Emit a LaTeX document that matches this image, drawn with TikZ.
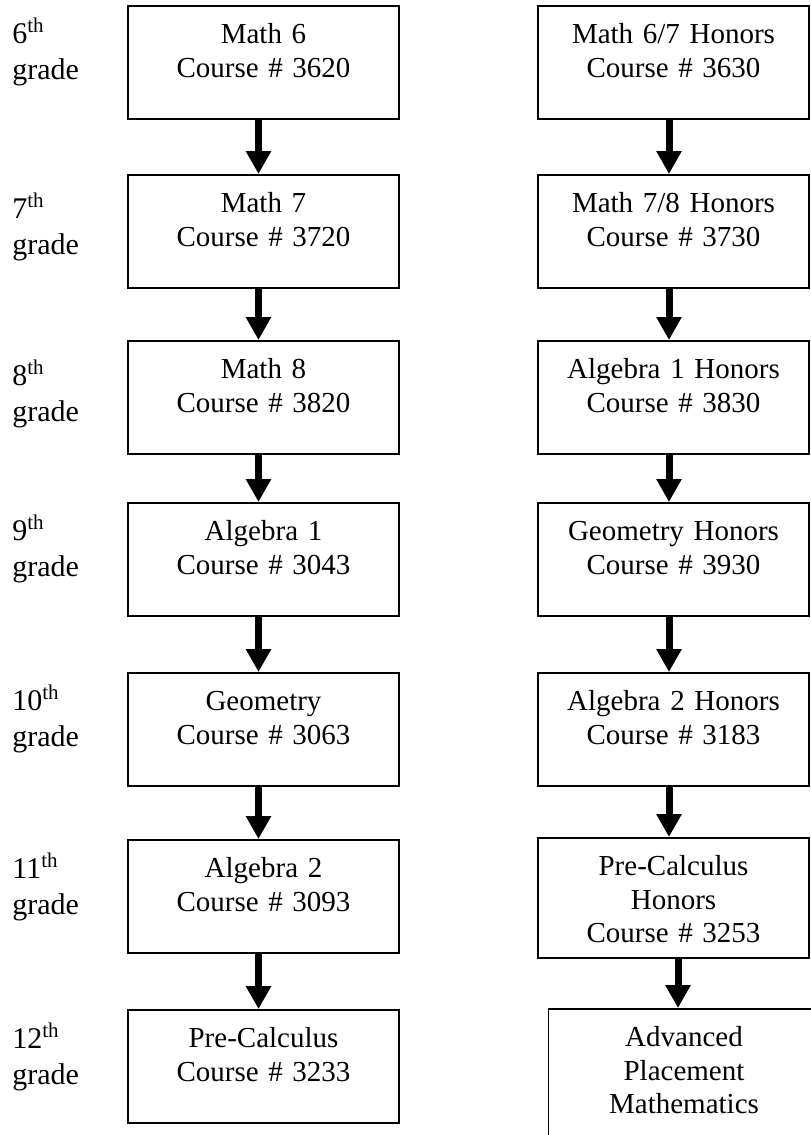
\documentclass[tikz,border=0pt]{standalone}
\usepackage{fontspec}
\setmainfont{Liberation Serif}
\usetikzlibrary{arrows.meta}

\tikzset{
  course/.style={draw, line width=0.75pt, inner sep=0pt, anchor=north,
    text width=135.5pt, align=center, text height=19pt, text depth=37.5pt,
    font=\fontsize{14.5}{16.8}\selectfont},
  grade/.style={anchor=base west, inner sep=0pt, text width=40pt, align=left,
    font=\fontsize{15}{18}\selectfont},
  flow/.style={-{Triangle[width=12pt,length=11.5pt]}, line width=3.5pt}
}

\begin{document}
\begin{tikzpicture}[x=0.5pt,y=-0.5pt]
  \useasboundingbox (0,0) rectangle (810,1135);
  % grade labels
  \node[grade] (g6) at (12,43) {6\textsuperscript{th}\\grade};
  \node[grade] (g7) at (12,218) {7\textsuperscript{th}\\grade};
  \node[grade] (g8) at (12,385) {8\textsuperscript{th}\\grade};
  \node[grade] (g9) at (12,540) {9\textsuperscript{th}\\grade};
  \node[grade] (g10) at (12,710) {10\textsuperscript{th}\\grade};
  \node[grade] (g11) at (12,878) {11\textsuperscript{th}\\grade};
  \node[grade] (g12) at (12,1048) {12\textsuperscript{th}\\grade};
  % regular track
  \node[course] (m6) at (263.5,5) {Math 6\\Course \# 3620};
  \node[course] (m7) at (263.5,174) {Math 7\\Course \# 3720};
  \node[course] (m8) at (263.5,340) {Math 8\\Course \# 3820};
  \node[course] (alg1) at (263.5,502) {Algebra 1\\Course \# 3043};
  \node[course] (geo) at (263.5,672) {Geometry\\Course \# 3063};
  \node[course] (alg2) at (263.5,839) {Algebra 2\\Course \# 3093};
  \node[course] (pc) at (263.5,1009) {Pre-Calculus\\Course \# 3233};
  % honors track
  \node[course] (h67) at (673.5,5) {Math 6/7 Honors\\Course \# 3630};
  \node[course] (h78) at (673.5,174) {Math 7/8 Honors\\Course \# 3730};
  \node[course] (halg1) at (673.5,340) {Algebra 1 Honors\\Course \# 3830};
  \node[course] (hgeo) at (673.5,502) {Geometry Honors\\Course \# 3930};
  \node[course] (halg2) at (673.5,672) {Algebra 2 Honors\\Course \# 3183};
  \node[course, text depth=41pt] (pch) at (673.5,837) {Pre-Calculus\\Honors\\Course \# 3253};
  \node[course, text depth=62pt] (ap) at (684,1008) {Advanced\\Placement\\Mathematics};
  % arrows
  \draw[flow] ([xshift=-2.5pt]m6.south) -- ([xshift=-2.5pt]m7.north);
  \draw[flow] ([xshift=-2.5pt]m7.south) -- ([xshift=-2.5pt]m8.north);
  \draw[flow] ([xshift=-2.5pt]m8.south) -- ([xshift=-2.5pt]alg1.north);
  \draw[flow] ([xshift=-2.5pt]alg1.south) -- ([xshift=-2.5pt]geo.north);
  \draw[flow] ([xshift=-2.5pt]geo.south) -- ([xshift=-2.5pt]alg2.north);
  \draw[flow] ([xshift=-2.5pt]alg2.south) -- ([xshift=-2.5pt]pc.north);
  \draw[flow] ([xshift=-2.25pt]h67.south) -- ([xshift=-2.25pt]h78.north);
  \draw[flow] ([xshift=-2.25pt]h78.south) -- ([xshift=-2.25pt]halg1.north);
  \draw[flow] ([xshift=-2.25pt]halg1.south) -- ([xshift=-2.25pt]hgeo.north);
  \draw[flow] ([xshift=-2.25pt]hgeo.south) -- ([xshift=-2.25pt]halg2.north);
  \draw[flow] ([xshift=-2.25pt]halg2.south) -- ([xshift=-2.25pt]pch.north);
  \draw[flow] ([xshift=2.25pt]pch.south) -- ([xshift=2.25pt]pch.south |- ap.north);
\end{tikzpicture}
\end{document}
